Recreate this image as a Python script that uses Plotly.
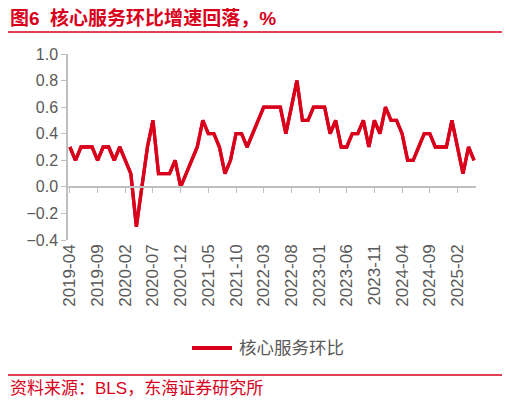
import plotly.graph_objects as go

months = [f"{y}-{m:02d}" for y in range(2019, 2026) for m in range(1, 13)]
months = months[months.index("2019-04"):months.index("2025-05") + 1]

core_services_mom = [
    0.3, 0.2, 0.3, 0.3, 0.3, 0.2, 0.3, 0.3, 0.2,            # 2019-04 .. 2019-12
    0.3, 0.2, 0.1, -0.3, 0.0, 0.3, 0.5, 0.1, 0.1, 0.1, 0.2, 0.0,  # 2020
    0.1, 0.2, 0.3, 0.5, 0.4, 0.4, 0.3, 0.1, 0.2, 0.4, 0.4, 0.3,   # 2021
    0.4, 0.5, 0.6, 0.6, 0.6, 0.6, 0.4, 0.6, 0.8, 0.5, 0.5, 0.6,   # 2022
    0.6, 0.6, 0.4, 0.5, 0.3, 0.3, 0.4, 0.4, 0.5, 0.3, 0.5, 0.4,   # 2023
    0.6, 0.5, 0.5, 0.4, 0.2, 0.2, 0.3, 0.4, 0.4, 0.3, 0.3, 0.3,   # 2024
    0.5, 0.3, 0.1, 0.3, 0.2,                                 # 2025-01 .. 2025-05
]

tick_labels = months[::5]
y_ticks = [-0.4, -0.2, 0.0, 0.2, 0.4, 0.6, 0.8, 1.0]
series_name = "核心服务环比"

RED = "#D9001B"
GRAY = "#595959"
AXIS = "#BFBFBF"
FONT = "Liberation Sans, Noto Sans CJK SC, sans-serif"

fig = go.Figure()

fig.add_trace(go.Scatter(
    x=months, y=core_services_mom, mode="lines", name=series_name,
    line=dict(color=RED, width=3.3), xaxis="x", yaxis="y", showlegend=False
))
# same series on the overlay axis that sits at y=0
fig.add_trace(go.Scatter(
    x=months, y=core_services_mom, mode="lines", showlegend=False,
    line=dict(color=RED, width=3.3), xaxis="x2", yaxis="y", hoverinfo="skip"
))

zero_pos = 0.4 / 1.4

# page has an 8px body margin, so the figure is sized to the visible area
fig.update_layout(
    width=502, height=395,
    margin=dict(l=60, r=34, t=46, b=163),
    paper_bgcolor="white", plot_bgcolor="white",
    font=dict(family=FONT, size=16, color=GRAY),
    xaxis=dict(
        type="category", range=[-0.35, 73.35], automargin=False,
        tickmode="array", tickvals=tick_labels, ticktext=tick_labels,
        tickangle=-90, showline=False, ticks="", showgrid=False,
        tickfont=dict(size=17, color=GRAY),
    ),
    xaxis2=dict(
        type="category", overlaying="x", matches="x", anchor="free", position=zero_pos,
        tickmode="array", tickvals=tick_labels, showticklabels=False,
        showline=True, linecolor=AXIS, linewidth=1.5, automargin=False,
        ticks="outside", ticklen=5, tickcolor=AXIS, showgrid=False,
    ),
    yaxis=dict(
        range=[-0.4, 1.0], tickvals=y_ticks, tickformat=".1f", automargin=False,
        showline=True, linecolor=AXIS, linewidth=1.5,
        ticks="outside", ticklen=5, tickcolor=AXIS,
        showgrid=False, zeroline=False,
        tickfont=dict(size=16, color=GRAY),
    ),
    shapes=[
        dict(type="line", xref="paper", yref="paper", x0=-0.147, x1=1.071,
             y0=1.118, y1=1.118, line=dict(color=RED, width=1.5)),
        dict(type="line", xref="paper", yref="paper", x0=-0.147, x1=1.071,
             y0=-0.726, y1=-0.726, line=dict(color=RED, width=1.5)),
        # legend swatch
        dict(type="line", xref="paper", yref="paper", x0=0.304, x1=0.402,
             y0=-0.581, y1=-0.581, line=dict(color=RED, width=4)),
    ],
    annotations=[
        dict(text="<b>图6  核心服务环比增速回落，%</b>", xref="paper", yref="paper",
             x=-0.147, y=1.192, xanchor="left", yanchor="middle", showarrow=False,
             font=dict(size=19, color=RED)),
        dict(text=series_name, xref="paper", yref="paper",
             x=0.414, y=-0.581, xanchor="left", yanchor="middle", showarrow=False,
             font=dict(size=17.5, color=GRAY)),
        dict(text="资料来源：BLS，东海证券研究所", xref="paper", yref="paper",
             x=-0.147, y=-0.796, xanchor="left", yanchor="middle", showarrow=False,
             font=dict(size=17, color=RED)),
    ],
)

fig.write_html("out.html")
